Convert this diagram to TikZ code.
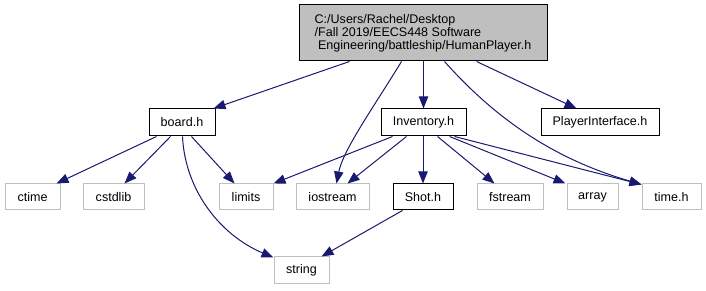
\documentclass[tikz,border=0pt]{standalone}
\usepackage{fontspec}
\setmainfont{Liberation Sans}
\usetikzlibrary{arrows.meta,calc}

\definecolor{edgeblue}{HTML}{191970}
\definecolor{sysgray}{HTML}{BFBFBF}
\definecolor{mainfill}{HTML}{BFBFBF}

\tikzset{
  x=0.75pt, y=-0.75pt,
  file/.style={draw=black, line width=0.75pt, fill=white, inner sep=0pt,
    font=\fontsize{9.4}{9.75}\selectfont},
  sysfile/.style={file, draw=sysgray},
  box/.style 2 args={minimum width=#1*0.75pt, minimum height=#2*0.75pt},
  dep/.style={draw=edgeblue, line width=0.75pt,
    -{Triangle[length=9pt,width=7pt]}},
}

\begin{document}
\begin{tikzpicture}
\useasboundingbox (0,0) rectangle (706,291);

% header being documented
\node[file, fill=mainfill, box={248}{56}, align=left] (main) at (423,33)
  {C:/Users/Rachel/Desktop\\/Fall 2019/EECS448 Software\\\hspace{2.6pt}Engineering/battleship/HumanPlayer.h};

% project headers
\node[file, box={66}{27}]  (board) at (182,122.5)   {board.h};
\node[file, box={85}{27}]  (inv)   at (423.5,122.5) {Inventory.h};
\node[file, box={118}{27}] (pint)  at (600,122.5)   {PlayerInterface.h};
\node[file, box={60}{26}]  (shot)  at (423,197)     {Shot.h};

% system headers
\node[sysfile, box={55}{26}] (ctime)    at (32.5,197)  {ctime};
\node[sysfile, box={61}{26}] (cstdlib)  at (113.5,197) {cstdlib};
\node[sysfile, box={54}{26}] (limits)   at (246,197)   {limits};
\node[sysfile, box={73}{26}] (iostream) at (332.5,197) {iostream};
\node[sysfile, box={66}{26}] (fstream)  at (510,197)   {fstream};
\node[sysfile, box={51}{26}] (array)    at (592.5,197) {array};
\node[sysfile, box={59}{26}] (timeh)    at (671.5,197) {time.h};
\node[sysfile, box={55}{27}] (string)   at (301.5,270.5) {string};

% includes of HumanPlayer.h
\draw[dep] ($(main.south west)+(51,0)$) -- ($(board.north east)+(-2,0)$);
\draw[dep] ($(main.south west)+(103,0)$) .. controls (375,105) and (343,150) .. ($(iostream.north west)+(41,0)$);
\draw[dep] (main.south -| inv.north) -- (inv.north);
\draw[dep] ($(main.south west)+(178,0)$) -- ($(pint.north west)+(36,0)$);
\draw[dep] ($(main.south west)+(146,0)$) .. controls (501,125) and (561,161) .. ($(timeh.north west)+(0,1)$);

% includes of board.h
\draw[dep] ($(board.south west)+(8,0)$)  -- ($(ctime.north west)+(52,0)$);
\draw[dep] ($(board.south west)+(22,0)$) -- ($(cstdlib.north west)+(42,0)$);
\draw[dep] ($(board.south west)+(43,0)$) -- ($(limits.north west)+(16,0)$);
\draw[dep] ($(board.south west)+(34,0)$) .. controls (185,190) and (220,235) .. ($(string.north west)+(0,1)$);

% includes of Inventory.h
\draw[dep] ($(inv.south west)+(12,0)$) -- (limits.north east);
\draw[dep] ($(inv.south west)+(26,0)$) -- ($(iostream.north west)+(52,0)$);
\draw[dep] (inv.south -| shot.north) -- (shot.north);
\draw[dep] ($(inv.south west)+(57,0)$) -- ($(fstream.north west)+(18,0)$);
\draw[dep] ($(inv.south west)+(69,0)$) -- ($(array.north west)+(-1,0)$);
\draw[dep] ($(inv.south west)+(74,0)$) -- ($(timeh.north west)+(0,1)$);

% includes of Shot.h
\draw[dep] ($(shot.south west)+(10,0)$) -- ($(string.north west)+(48,0)$);
\end{tikzpicture}
\end{document}
